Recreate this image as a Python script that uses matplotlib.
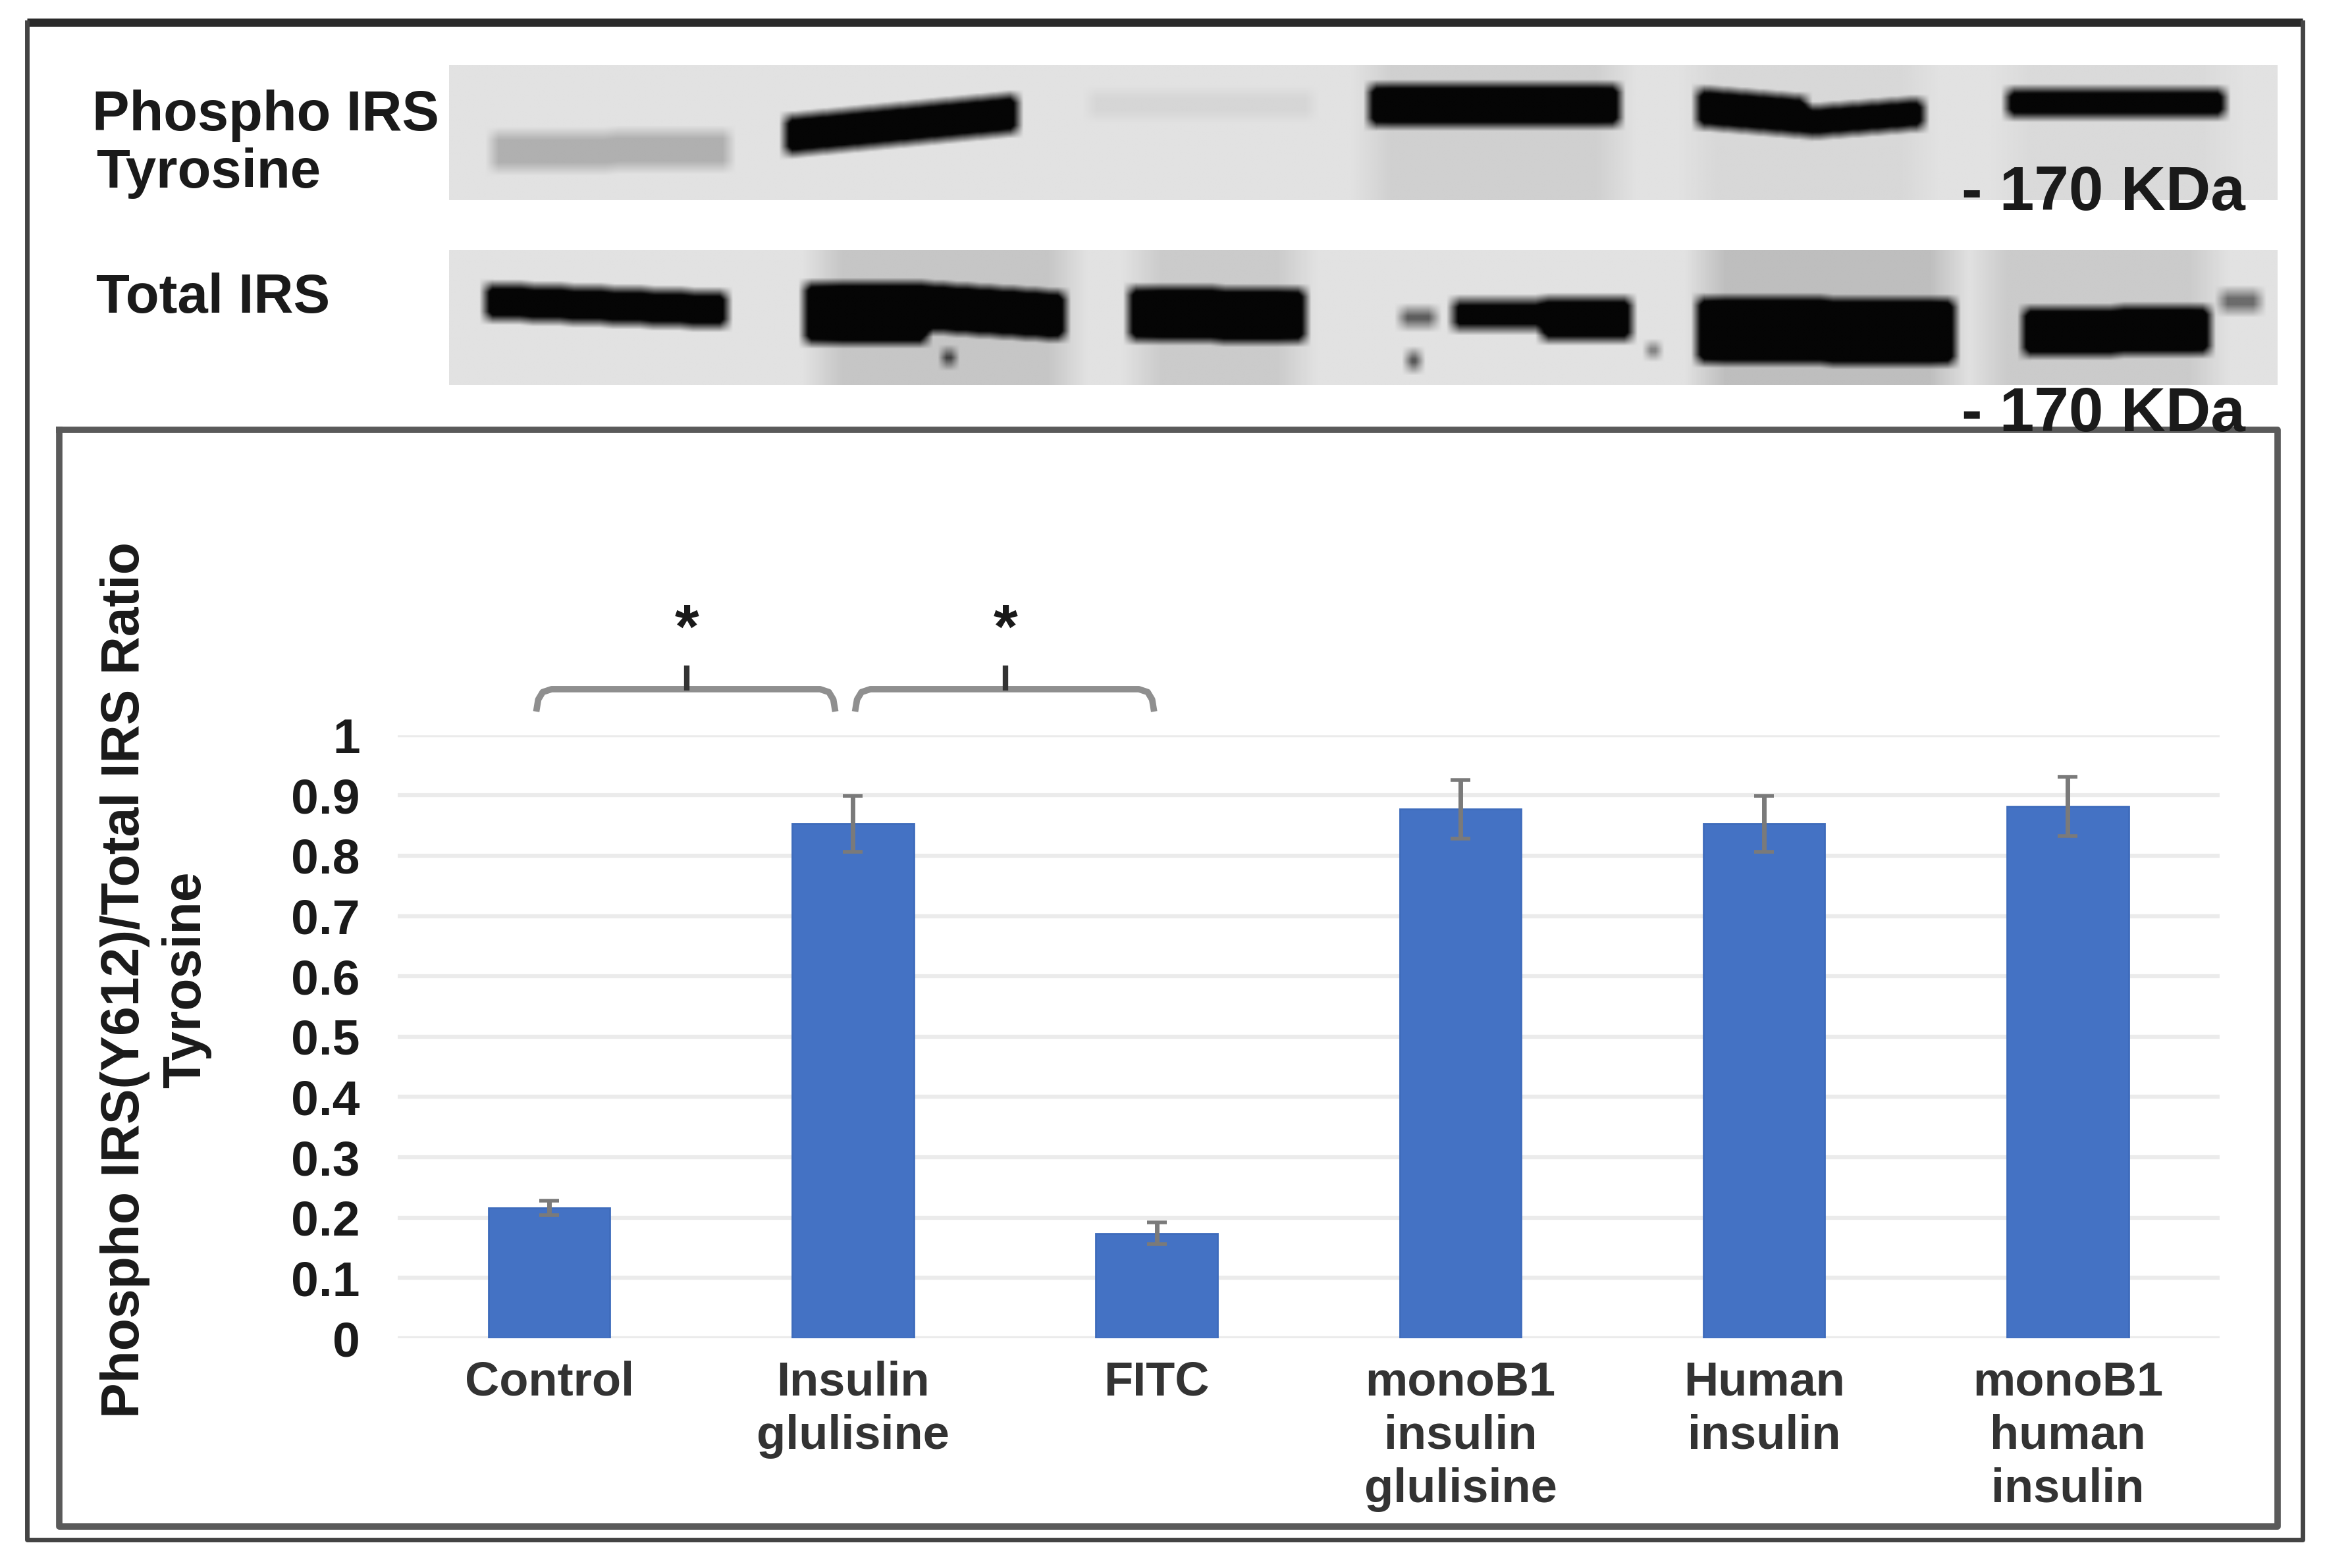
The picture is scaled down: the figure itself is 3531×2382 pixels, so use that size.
import numpy as np
import matplotlib
matplotlib.use('Agg')
import matplotlib.pyplot as plt

plt.rcParams['font.family'] = ['Liberation Sans', 'DejaVu Sans']
plt.rcParams['font.weight'] = 'bold'

# chart values
categories = ['Control', 'Insulin\nglulisine', 'FITC', 'monoB1\ninsulin\nglulisine',
              'Human\ninsulin', 'monoB1\nhuman\ninsulin']
ratio = [0.216, 0.853, 0.174, 0.877, 0.853, 0.882]
ratio_err = [0.012, 0.046, 0.018, 0.049, 0.046, 0.049]
y_ticks = [0, 0.1, 0.2, 0.3, 0.4, 0.5, 0.6, 0.7, 0.8, 0.9, 1]
y_tick_labels = ['0', '0.1', '0.2', '0.3', '0.4', '0.5', '0.6', '0.7', '0.8', '0.9', '1']

# blot bands: x start, x end, y centre at left, y centre at right, half height, darkness
phospho_bands = [(332, 492, 102, 100, 12, 0.17),
                 (530, 686, 91, 76, 12, 1.0),
                 (735, 885, 70, 70, 8, 0.04),
                 (924, 1092, 71, 70, 13, 1.0),
                 (1145, 1218, 72, 78, 12, 1.0),
                 (1218, 1297, 82, 76, 9, 1.0),
                 (1354, 1500, 69, 69, 8, 1.0)]
total_bands = [(328, 490, 203, 209, 11, 1.0),
               (543, 625, 211, 211, 19, 1.0),
               (625, 718, 207, 213, 15, 1.0),
               (762, 880, 211, 213, 17, 1.0),
               (980, 1040, 212, 212, 9, 0.85),
               (1040, 1100, 215, 215, 13, 1.0),
               (1145, 1318, 222, 224, 21, 1.0),
               (1365, 1490, 224, 222, 15, 1.0),
               (945, 968, 214, 214, 5, 0.45),
               (950, 957, 243, 243, 5, 0.6),
               (637, 643, 241, 241, 4, 0.7),
               (1112, 1118, 236, 236, 3, 0.6),
               (1498, 1524, 203, 203, 6, 0.4)]
# pale smears around the bands: x start, x end, darkness
phospho_smears = [(925, 1090, 0.07), (1145, 1295, 0.04), (1355, 1500, 0.03)]
total_smears = [(555, 720, 0.11), (770, 875, 0.09), (1150, 1315, 0.14), (1340, 1490, 0.09)]


def blur(img, size):
    kernel = np.ones(size) / size
    pad = np.pad(img, size, mode='edge')
    pad = np.apply_along_axis(lambda c: np.convolve(c, kernel, mode='same'), 0, pad)
    pad = np.apply_along_axis(lambda r: np.convolve(r, kernel, mode='same'), 1, pad)
    return pad[size:-size, size:-size]


def make_blot(bands, smears, x0, x1, y0, y1):
    xs = np.arange(x0, x1)
    ys = np.arange(y0, y1)
    pale = np.zeros((len(ys), len(xs)))
    for a, b, dark in smears:
        pale[:, (xs >= a) & (xs < b)] += dark
    pale = blur(pale, 27)
    core = np.zeros((len(ys), len(xs)))
    for a, b, yl, yr, hh, dark in bands:
        for i, x in enumerate(xs):
            if a <= x < b:
                yc = yl + (yr - yl) * (x - a) / (b - a)
                core[np.abs(ys - yc) <= hh, i] += dark
    return np.clip(0.885 - pale - blur(core, 9) * 1.15, 0.02, 1)


W, H = 1568.0, 1058.0
fig = plt.figure(figsize=(35.31, 23.82), dpi=100, facecolor='white')

# page layer in reference pixels
page = fig.add_axes([0, 0, 1, 1], zorder=1)
page.set_xlim(0, W)
page.set_ylim(H, 0)
page.axis('off')

page.imshow(make_blot(phospho_bands, phospho_smears, 303, 1536, 44, 135), cmap='gray', vmin=0, vmax=1,
            extent=(303, 1536, 135, 44), aspect='auto', interpolation='bilinear')
page.imshow(make_blot(total_bands, total_smears, 303, 1536, 169, 260), cmap='gray', vmin=0, vmax=1,
            extent=(303, 1536, 260, 169), aspect='auto', interpolation='bilinear')
page.set_xlim(0, W)
page.set_ylim(H, 0)

# outer and inner frames
page.plot([18, 1553], [15, 15], color='#2a2a2a', lw=9, solid_capstyle='butt')
page.plot([18, 18, 1553, 1553], [15, 1039, 1039, 15], color='#444444', lw=5)
page.plot([40, 40, 1536, 1536, 40], [290, 1030, 1030, 290, 290], color='#5a5a5a', lw=7)

# blot labels
page.text(62, 78, 'Phospho IRS', fontsize=61, va='center', color='#1a1a1a')
page.text(65, 117, 'Tyrosine', fontsize=60, va='center', color='#1a1a1a')
page.text(65, 201, 'Total IRS', fontsize=60, va='center', color='#1a1a1a')
page.text(1323, 131, '- 170 KDa', fontsize=68, va='center', color='#1a1a1a')
page.text(1323, 280, '- 170 KDa', fontsize=68, va='center', color='#1a1a1a')

# significance braces
for left, right, mid in [(362, 563, 463), (577, 778, 678)]:
    bx = [left, left + 1, left + 4, left + 10, right - 10, right - 4, right - 1, right]
    by = [478, 472, 467, 465, 465, 467, 472, 478]
    page.plot(bx, by, color='#8f8f8f', lw=7)
    page.plot([mid, mid], [449, 466], color='#333333', lw=6, solid_capstyle='butt')
    page.text(mid, 426, '*', fontsize=68, ha='center', va='center', color='#1a1a1a')

# y title
page.text(105, 661, 'Phospho IRS(Y612)/Total IRS Ratio\nTyrosine', fontsize=58, rotation=90,
          ha='center', va='center', ma='center', linespacing=1.28, color='#1a1a1a')

# chart
ax = fig.add_axes([268 / W, 1 - 903 / H, (1497 - 268) / W, (903 - 496) / H], zorder=2)
ax.patch.set_alpha(0)
x = np.arange(len(categories))
ax.bar(x, ratio, width=0.4, color='#4472C4', edgecolor='#3f6cbc', linewidth=2, zorder=3)
ax.errorbar(x, ratio, yerr=ratio_err, fmt='none', ecolor='#7a7a7a', elinewidth=5,
            capsize=11, capthick=4, zorder=4)
ax.set_xlim(-0.5, 5.5)
ax.set_ylim(0, 1)
ax.set_yticks(y_ticks)
ax.set_yticklabels(y_tick_labels, fontsize=54, color='#1a1a1a')
ax.set_xticks(x)
ax.set_xticklabels(categories, fontsize=52, color='#333333', linespacing=1.25)
ax.tick_params(axis='both', length=0)
ax.tick_params(axis='y', pad=41)
ax.tick_params(axis='x', pad=24)
ax.grid(axis='y', color='#ebebeb', lw=4.5, zorder=0)
ax.set_axisbelow(True)
for s in ax.spines.values():
    s.set_visible(False)

fig.savefig('out.png', dpi=100, facecolor='white')
